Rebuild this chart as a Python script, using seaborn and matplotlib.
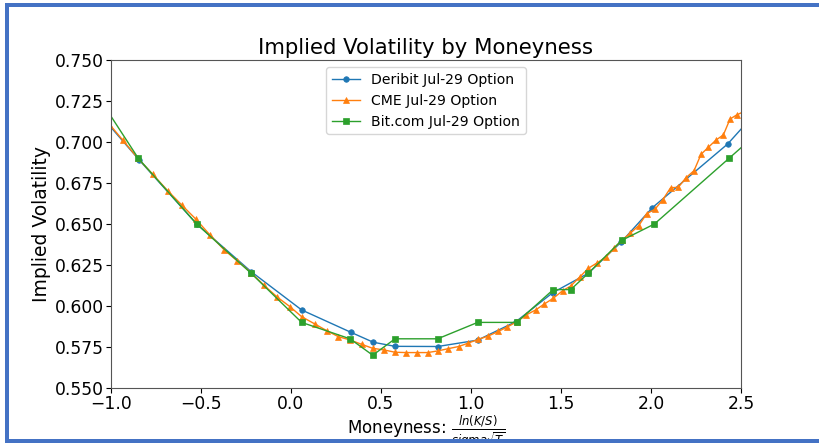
import matplotlib
matplotlib.use("Agg")
import matplotlib.pyplot as plt
from matplotlib.patches import Rectangle
import seaborn as sns
import pandas as pd

# ---- data ----
deribit_x = [-1.17, -0.843, -0.524, -0.222, 0.059, 0.332, 0.457, 0.578, 0.815, 1.037,
             1.25, 1.454, 1.652, 1.833, 2.008, 2.426, 2.6]
deribit_y = [0.7305, 0.689, 0.650, 0.621, 0.5976, 0.584, 0.5779, 0.5754, 0.5753, 0.5792,
             0.5905, 0.6081, 0.620, 0.6388, 0.660, 0.6988, 0.720]

cme_x = [-1.01, -0.935, -0.85, -0.768, -0.685, -0.607, -0.528, -0.45, -0.37, -0.298,
         -0.22, -0.15, -0.077, -0.006, 0.059, 0.133, 0.198, 0.263, 0.328, 0.393,
         0.454, 0.517, 0.578, 0.641, 0.70, 0.759, 0.815, 0.874, 0.932, 0.985,
         1.039, 1.096, 1.152, 1.202, 1.254, 1.306, 1.359, 1.407, 1.457, 1.509,
         1.554, 1.606, 1.652, 1.702, 1.748, 1.794, 1.84, 1.886, 1.932, 1.976,
         2.022, 2.066, 2.109, 2.152, 2.194, 2.239, 2.278, 2.318, 2.361, 2.402,
         2.439, 2.476, 2.515]
cme_y = [0.711, 0.7012, 0.690, 0.6803, 0.6703, 0.6616, 0.6529, 0.6433, 0.6341, 0.6275,
         0.6202, 0.6126, 0.6055, 0.5996, 0.5935, 0.589, 0.585, 0.5813, 0.5793, 0.5766,
         0.5742, 0.5732, 0.5718, 0.5716, 0.5716, 0.5716, 0.5726, 0.574, 0.5753, 0.5774,
         0.5796, 0.5817, 0.5845, 0.5872, 0.5904, 0.5945, 0.5976, 0.6012, 0.6047, 0.6093,
         0.6122, 0.6179, 0.623, 0.6264, 0.6297, 0.6352, 0.6403, 0.6445, 0.649, 0.6563,
         0.659, 0.6649, 0.6721, 0.6724, 0.6782, 0.6825, 0.6925, 0.6967, 0.7012, 0.7043,
         0.714, 0.7165, 0.7185]

bitcom_x = [-1.15, -0.848, -0.524, -0.222, 0.059, 0.328, 0.454, 0.578, 0.815, 1.037,
            1.254, 1.457, 1.554, 1.652, 1.837, 2.019, 2.433, 2.64]
bitcom_y = [0.741, 0.69, 0.65, 0.62, 0.59, 0.58, 0.57, 0.58, 0.58, 0.59,
            0.59, 0.61, 0.61, 0.62, 0.64, 0.65, 0.69, 0.71]

labels = ["Deribit Jul-29 Option", "CME Jul-29 Option", "Bit.com Jul-29 Option"]
title = "Implied Volatility by Moneyness"
xlabel = r"Moneyness: $\frac{ln(K/S)}{sigma\sqrt{T}}$"
ylabel = "Implied Volatility"

plt.rcParams['font.family'] = ['DejaVu Sans']

fig = plt.figure(figsize=(8.19, 4.45), dpi=100)
ax = fig.add_axes([111/819, 1-388/445, 630/819, 328/445])

series = [(deribit_x, deribit_y, 'o', '#1f77b4', 4.0),
          (cme_x, cme_y, '^', '#ff7f0e', 4.5),
          (bitcom_x, bitcom_y, 's', '#2ca02c', 4.0)]
for (xs, ys, mk, col, ms), lab in zip(series, labels):
    df = pd.DataFrame({"m": xs, "iv": ys})
    sns.lineplot(data=df, x="m", y="iv", ax=ax, sort=False, marker=mk, color=col,
                 markersize=ms, linewidth=1.0, markeredgecolor=col,
                 markeredgewidth=0.5, label=lab)

ax.set_xlim(-1.0, 2.5)
ax.set_ylim(0.55, 0.75)
ax.set_title(title, fontsize=15.3, pad=4)
ax.set_xlabel(xlabel, fontsize=12, labelpad=0.5)
ax.set_ylabel(ylabel, fontsize=13.5, labelpad=3)
ax.tick_params(labelsize=12.3, pad=1.5, length=3.5)
for s in ax.spines.values():
    s.set_color('#555555')
    s.set_linewidth(0.8)
ax.legend(loc='upper center', fontsize=10.1)

# screenshot frame
blue = '#4472C4'
fig.add_artist(Rectangle((0, 0), 1, 6/445, transform=fig.transFigure,
                         facecolor='white', edgecolor='none', zorder=10))
fig.add_artist(Rectangle((5/819, 1-7/445), 1, 4/445, transform=fig.transFigure,
                         facecolor=blue, edgecolor='none', zorder=11))
fig.add_artist(Rectangle((5/819, 2/445), 4/819, 1-5/445, transform=fig.transFigure,
                         facecolor=blue, edgecolor='none', zorder=11))
fig.add_artist(Rectangle((5/819, 2/445), 1, 4/445, transform=fig.transFigure,
                         facecolor=blue, edgecolor='none', zorder=11))

fig.savefig("out.png", dpi=100)
